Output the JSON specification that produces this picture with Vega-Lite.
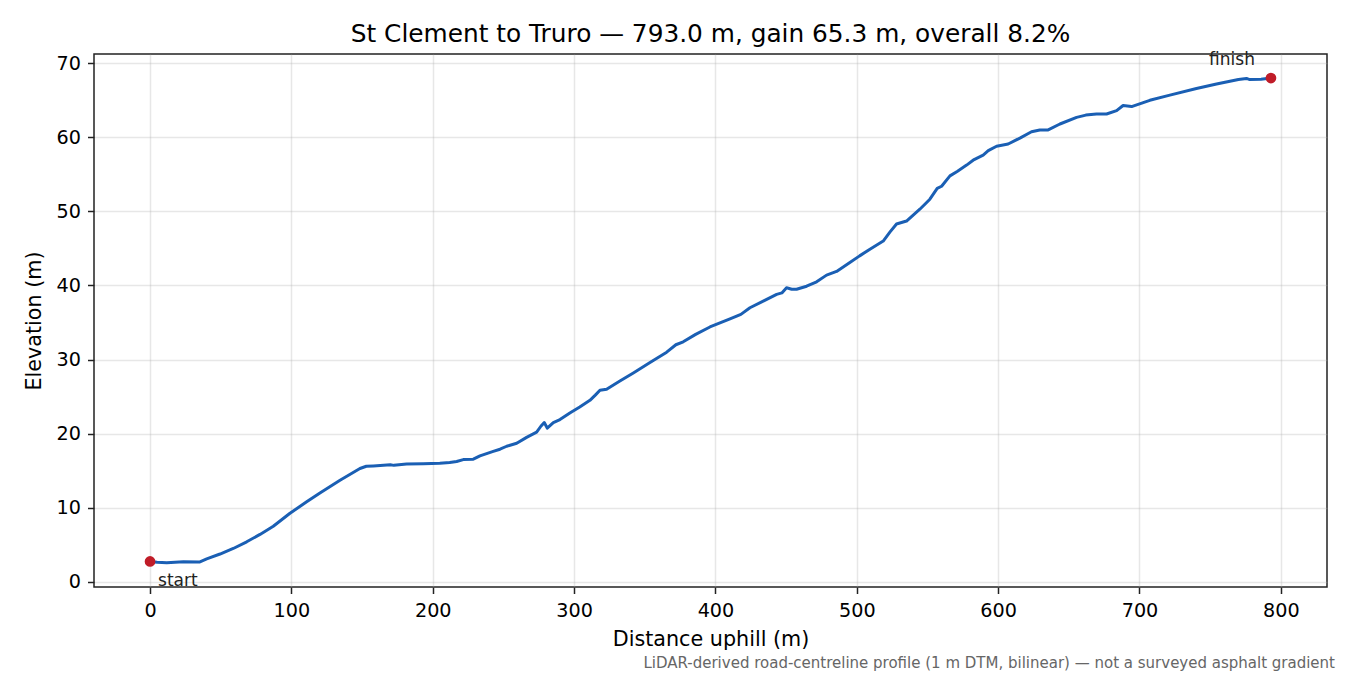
{
  "$schema": "https://vega.github.io/schema/vega-lite/v6.json",
  "autosize": "none",
  "width": 1233,
  "height": 533,
  "padding": {"left": 94, "top": 54, "right": 23, "bottom": 88},
  "background": "white",
  "title": {
    "text": "St Clement to Truro — 793.0 m, gain 65.3 m, overall 8.2%",
    "frame": "group",
    "anchor": "middle",
    "fontSize": 24.8,
    "fontWeight": "normal",
    "font": "DejaVu Sans",
    "color": "black",
    "offset": 4
  },
  "datasets": {
    "profile": [
      {"d": 0, "elev": 2.75},
      {"d": 5, "elev": 2.65},
      {"d": 11.8, "elev": 2.57},
      {"d": 23.6, "elev": 2.7},
      {"d": 34.9, "elev": 2.67},
      {"d": 40.1, "elev": 3.1},
      {"d": 49.5, "elev": 3.75},
      {"d": 58.9, "elev": 4.5},
      {"d": 68.4, "elev": 5.4},
      {"d": 77.8, "elev": 6.4},
      {"d": 87.2, "elev": 7.5},
      {"d": 99, "elev": 9.25},
      {"d": 110.8, "elev": 10.8},
      {"d": 120.2, "elev": 12.0},
      {"d": 134.4, "elev": 13.7},
      {"d": 148.5, "elev": 15.3},
      {"d": 153, "elev": 15.6},
      {"d": 158, "elev": 15.65},
      {"d": 170, "elev": 15.8},
      {"d": 172.5, "elev": 15.72},
      {"d": 181.5, "elev": 15.9},
      {"d": 193.3, "elev": 15.95},
      {"d": 205, "elev": 16.0},
      {"d": 212, "elev": 16.1},
      {"d": 216.9, "elev": 16.25},
      {"d": 221.6, "elev": 16.5},
      {"d": 228.7, "elev": 16.55},
      {"d": 233.4, "elev": 17.0},
      {"d": 242.8, "elev": 17.6},
      {"d": 247.6, "elev": 17.9},
      {"d": 252.3, "elev": 18.3},
      {"d": 259.4, "elev": 18.7},
      {"d": 266.4, "elev": 19.5},
      {"d": 273.5, "elev": 20.2},
      {"d": 276.5, "elev": 21.0},
      {"d": 278.9, "elev": 21.5},
      {"d": 281, "elev": 20.75},
      {"d": 285.3, "elev": 21.5},
      {"d": 290, "elev": 21.9},
      {"d": 297, "elev": 22.8},
      {"d": 304, "elev": 23.6},
      {"d": 311.2, "elev": 24.5},
      {"d": 315, "elev": 25.2},
      {"d": 318.3, "elev": 25.85},
      {"d": 323, "elev": 26.0},
      {"d": 332.4, "elev": 27.1},
      {"d": 341.9, "elev": 28.2},
      {"d": 353.7, "elev": 29.6},
      {"d": 365.5, "elev": 31.0},
      {"d": 372, "elev": 32.0},
      {"d": 377.2, "elev": 32.4},
      {"d": 386, "elev": 33.4},
      {"d": 396.1, "elev": 34.4},
      {"d": 410.3, "elev": 35.5},
      {"d": 418, "elev": 36.1},
      {"d": 424.4, "elev": 37.0},
      {"d": 433.8, "elev": 37.9},
      {"d": 443.3, "elev": 38.8},
      {"d": 447, "elev": 39.0},
      {"d": 450.3, "elev": 39.7},
      {"d": 454, "elev": 39.5},
      {"d": 457.4, "elev": 39.5},
      {"d": 464.5, "elev": 39.9},
      {"d": 471.6, "elev": 40.5},
      {"d": 478.6, "elev": 41.4},
      {"d": 485.7, "elev": 41.9},
      {"d": 495.1, "elev": 43.1},
      {"d": 502, "elev": 44.0},
      {"d": 509.3, "elev": 44.9},
      {"d": 518.7, "elev": 46.0},
      {"d": 523.4, "elev": 47.2},
      {"d": 528.1, "elev": 48.3},
      {"d": 535.2, "elev": 48.7},
      {"d": 544.6, "elev": 50.3},
      {"d": 551.7, "elev": 51.65},
      {"d": 556.9, "elev": 53.1},
      {"d": 560, "elev": 53.4},
      {"d": 565.9, "elev": 54.8},
      {"d": 571, "elev": 55.4},
      {"d": 577.7, "elev": 56.25},
      {"d": 583, "elev": 57.0},
      {"d": 589.4, "elev": 57.6},
      {"d": 593, "elev": 58.2},
      {"d": 598.9, "elev": 58.8},
      {"d": 607.1, "elev": 59.1},
      {"d": 615.4, "elev": 59.9},
      {"d": 623.6, "elev": 60.75},
      {"d": 629.5, "elev": 61.0},
      {"d": 635.4, "elev": 61.0},
      {"d": 643.7, "elev": 61.8},
      {"d": 655.5, "elev": 62.7},
      {"d": 662, "elev": 63.0},
      {"d": 669.6, "elev": 63.15},
      {"d": 676.7, "elev": 63.15},
      {"d": 683.8, "elev": 63.6},
      {"d": 688.4, "elev": 64.3},
      {"d": 694.4, "elev": 64.15},
      {"d": 707.3, "elev": 65.0},
      {"d": 721.5, "elev": 65.7},
      {"d": 740.3, "elev": 66.6},
      {"d": 754.5, "elev": 67.2},
      {"d": 770, "elev": 67.8},
      {"d": 775.7, "elev": 67.95},
      {"d": 778, "elev": 67.8},
      {"d": 786, "elev": 67.85},
      {"d": 793, "elev": 68.0}
    ],
    "ends": [
      {"d": 0, "elev": 2.75, "label": "start"},
      {"d": 793, "elev": 68.0, "label": "finish"}
    ],
    "notes": [
      {"note": "LiDAR-derived road-centreline profile (1 m DTM, bilinear) — not a surveyed asphalt gradient"}
    ]
  },
  "layer": [
    {
      "data": {"name": "profile"},
      "mark": {"type": "line", "color": "#1a5fb4", "strokeWidth": 3, "strokeJoin": "round", "strokeCap": "round"},
      "encoding": {
        "x": {
          "field": "d",
          "type": "quantitative",
          "title": "Distance uphill (m)",
          "scale": {"domain": [-39.65, 832.65], "nice": false, "zero": false},
          "axis": {"values": [0, 100, 200, 300, 400, 500, 600, 700, 800], "titlePadding": 9}
        },
        "y": {
          "field": "elev",
          "type": "quantitative",
          "title": "Elevation (m)",
          "scale": {"domain": [-0.7, 71.25], "nice": false, "zero": false},
          "axis": {"values": [0, 10, 20, 30, 40, 50, 60, 70], "titlePadding": 12}
        }
      }
    },
    {
      "data": {"name": "ends"},
      "mark": {"type": "circle", "color": "#c01c28", "size": 115, "opacity": 1},
      "encoding": {
        "x": {"field": "d", "type": "quantitative", "title": "Distance uphill (m)"},
        "y": {"field": "elev", "type": "quantitative", "title": "Elevation (m)"}
      }
    },
    {
      "data": {"name": "ends"},
      "transform": [{"filter": "datum.label == 'start'"}],
      "mark": {"type": "text", "align": "left", "baseline": "alphabetic", "dx": 8, "dy": 25, "fontSize": 17, "font": "DejaVu Sans", "color": "#222222"},
      "encoding": {
        "x": {"field": "d", "type": "quantitative", "title": "Distance uphill (m)"},
        "y": {"field": "elev", "type": "quantitative", "title": "Elevation (m)"},
        "text": {"field": "label"}
      }
    },
    {
      "data": {"name": "ends"},
      "transform": [{"filter": "datum.label == 'finish'"}],
      "mark": {"type": "text", "align": "right", "baseline": "alphabetic", "dx": -16, "dy": -13.5, "fontSize": 17, "font": "DejaVu Sans", "color": "#222222"},
      "encoding": {
        "x": {"field": "d", "type": "quantitative", "title": "Distance uphill (m)"},
        "y": {"field": "elev", "type": "quantitative", "title": "Elevation (m)"},
        "text": {"field": "label"}
      }
    },
    {
      "data": {"name": "notes"},
      "mark": {"type": "text", "clip": false, "align": "right", "baseline": "alphabetic", "fontSize": 15, "font": "DejaVu Sans", "color": "#666666"},
      "encoding": {
        "x": {"datum": 838.3, "type": "quantitative", "title": "Distance uphill (m)"},
        "y": {"datum": -11.6, "type": "quantitative", "title": "Elevation (m)"},
        "text": {"field": "note", "type": "nominal"}
      }
    }
  ],
  "config": {
    "font": "DejaVu Sans",
    "view": {"stroke": "#222222", "strokeWidth": 1.5},
    "axis": {
      "labelFont": "DejaVu Sans",
      "titleFont": "DejaVu Sans",
      "labelFontSize": 19.2,
      "titleFontSize": 20.7,
      "titleFontWeight": "normal",
      "labelColor": "black",
      "titleColor": "black",
      "domain": false,
      "tickColor": "#222222",
      "tickWidth": 1.5,
      "tickSize": 6.5,
      "labelPadding": 7,
      "grid": true,
      "gridColor": "#b0b0b0",
      "gridOpacity": 0.3,
      "gridWidth": 1.5
    },
    "axisX": {"labelPadding": 8}
  }
}
